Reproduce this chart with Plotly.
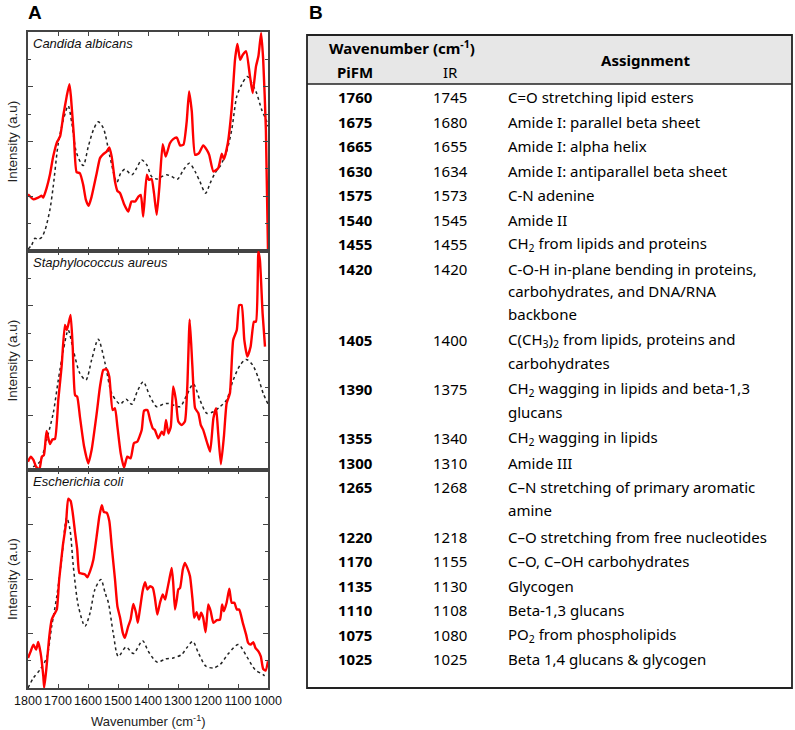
import plotly.graph_objects as go

W, H = 795, 730

# ---------------- Panel A data (arbitrary intensity units, 0-100 per panel) -------------
ca_red_wn = [1800,1782,1766,1754,1749,1738,1727,1716,1704,1693,1682,1671,1662,1657,1647,1638,1627,1616,1607,1598,
             1588,1571,1560,1549,1538,1529,1521,1510,1502,1493,1480,1466,1455,1443,1432,1424,1416,1404,1397,1388,
             1380,1371,1362,1351,1341,1327,1316,1304,1293,1282,1271,1263,1254,1243,1230,1216,1204,1196,1182,1166,
             1154,1147,1134,1121,1110,1102,1093,1084,1073,1060,1051,1040,1032,1023,1016,1007,1000]
ca_red_int = [25.9,23.6,24.4,25.2,24.4,28.7,34.8,43.1,49.5,52.3,62.2,70.6,76.2,70.6,52.3,36.0,35.5,30.2,23.3,20.6,
              24.8,35.5,42.4,44.2,45.4,47.3,43.1,31.7,27.4,26.4,21.5,18.0,22.6,22.6,24.8,25.6,15.7,34.8,32.5,32.9,
              26.4,16.5,29.4,48.8,43.1,49.2,51.1,51.8,48.2,48.5,59.1,72.9,63.7,43.9,44.7,48.2,46.2,43.9,36.3,37.8,
              44.4,41.9,49.2,65.2,87.3,94.5,87.3,89.6,91.2,79.7,72.1,84.3,88.9,99.5,87.3,55.3,0.0]
ca_ir_wn = [1800,1788,1777,1766,1754,1743,1727,1716,1699,1682,1666,1654,1638,1616,1599,1582,1566,1549,1527,1504,
            1491,1477,1454,1438,1421,1404,1388,1371,1354,1338,1321,1302,1282,1262,1243,1227,1208,1193,1177,1160,
            1138,1121,1104,1088,1069,1054,1038,1021,1004,1000]
ca_ir_int = [0.8,2.7,5.8,5.3,6.3,9.6,18.8,29.4,49.2,59.9,66.3,58.4,44.7,39.0,47.7,55.3,59.0,56.1,43.1,31.3,
             35.5,37.3,34.8,37.8,41.6,39.3,34.0,32.9,34.0,34.8,34.0,32.8,37.0,40.1,36.3,31.7,26.4,30.9,35.5,38.6,
             45.4,55.3,70.6,75.9,79.7,76.7,72.1,64.5,59.1,56.9]

sa_red_wn = [1800,1791,1782,1773,1762,1754,1747,1738,1727,1718,1710,1699,1688,1677,1671,1666,1658,1651,1643,1636,
             1627,1613,1599,1588,1571,1560,1549,1538,1529,1518,1510,1502,1491,1480,1469,1458,1447,1436,1421,1413,
             1402,1393,1384,1377,1366,1354,1347,1340,1332,1324,1316,1307,1299,1288,1277,1269,1261,1252,1243,1232,
             1224,1216,1204,1193,1182,1173,1166,1157,1147,1138,1127,1116,1104,1096,1088,1079,1069,1058,1047,1040,
             1032,1027,1018,1010]
sa_red_int = [3.8,6.1,4.6,1.5,0.3,6.1,6.8,17.8,11.9,14.0,14.2,32.0,47.2,66.2,63.9,66.2,70.8,56.3,34.2,33.5,
              24.4,10.7,3.0,9.1,25.9,38.1,45.7,46.0,42.6,27.4,28.2,19.8,7.6,1.1,6.1,5.3,12.2,12.9,18.3,27.1,
              27.4,22.8,19.0,18.3,14.5,17.5,16.0,22.8,16.7,19.8,38.1,32.0,22.1,20.5,22.1,38.1,68.8,47.2,28.2,25.9,
              20.5,18.3,12.9,8.4,23.6,28.2,16.7,2.6,15.2,30.4,35.0,59.4,63.9,75.3,75.3,59.4,51.8,56.3,67.7,67.7,
              99.7,95.9,71.5,56.3]
sa_ir_wn = [1800,1782,1760,1738,1716,1699,1682,1666,1649,1627,1607,1588,1566,1543,1521,1493,1473,1454,1436,1416,
            1393,1371,1349,1332,1316,1293,1271,1249,1227,1204,1182,1160,1138,1116,1093,1073,1051,1032,1016,1000]
sa_ir_int = [0.0,1.5,3.8,13.7,25.9,41.1,54.8,63.9,54.8,44.1,41.1,50.2,59.7,48.7,35.0,30.1,32.3,30.0,35.8,40.3,
             33.5,28.9,30.1,30.4,29.7,28.9,34.2,39.3,32.0,25.9,26.6,28.9,32.0,41.1,47.9,50.5,47.9,41.9,35.0,30.1]

ec_red_wn = [1800,1791,1782,1773,1766,1758,1749,1746,1738,1729,1721,1713,1704,1696,1684,1673,1666,1658,1651,1643,
             1636,1629,1621,1610,1602,1593,1582,1571,1562,1554,1547,1538,1529,1521,1510,1502,1493,1484,1477,1466,
             1458,1449,1440,1434,1427,1418,1410,1402,1393,1384,1377,1369,1360,1351,1343,1338,1329,1321,1316,1310,
             1304,1299,1293,1284,1277,1269,1260,1251,1246,1238,1230,1223,1216,1208,1199,1191,1182,1171,1160,1153,
             1147,1138,1129,1121,1112,1104,1096,1084,1073,1066,1058,1049,1042,1032,1024,1016,1008,1000]
ec_red_int = [13.8,16.8,19.9,17.6,21.1,16.1,5.4,0.0,10.0,23.7,31.4,33.7,36.0,49.8,65.1,75.8,86.8,85.8,80.4,71.2,
              63.6,52.8,52.5,52.1,50.8,53.6,59.0,69.7,78.9,83.8,80.7,80.4,76.6,65.1,49.8,37.5,32.2,25.3,23.0,28.3,
              31.4,38.6,34.5,29.9,36.0,44.4,48.5,45.2,46.7,45.9,41.3,33.7,39.1,42.9,40.6,43.6,49.8,55.1,48.2,36.0,
              40.6,45.2,45.9,54.4,57.4,55.1,51.3,39.8,32.2,34.8,31.4,34.5,32.2,25.6,38.3,35.2,29.9,31.1,31.4,38.3,
              35.2,39.1,45.5,39.1,39.1,36.0,36.0,29.9,24.5,20.7,19.9,21.0,18.4,16.8,14.5,8.7,8.0,12.3]
ec_ir_wn = [1800,1782,1760,1738,1721,1704,1688,1671,1660,1649,1632,1610,1593,1577,1557,1543,1532,1516,1499,1473,
            1449,1418,1399,1369,1343,1316,1288,1271,1251,1232,1207,1182,1160,1132,1099,1071,1043,1016,1004]
ec_ir_int = [0.0,4.6,8.4,13.8,28.3,42.1,59.0,78.1,72.7,55.9,37.5,28.3,34.5,45.2,49.8,43.6,39.1,25.3,14.5,18.8,
             15.8,21.7,16.8,11.8,13.3,13.8,15.3,18.4,21.4,16.1,10.0,9.2,10.7,15.8,19.9,14.5,8.4,6.1,4.6]

species = ["Candida albicans", "Staphylococcus aureus", "Escherichia coli"]
x_ticks = [1800, 1700, 1600, 1500, 1400, 1300, 1200, 1100, 1000]

# ---------------- Panel B data -------------
pifm = ["1760", "1675", "1665", "1630", "1575", "1540", "1455", "1420", "1405", "1390",
        "1355", "1300", "1265", "1220", "1170", "1135", "1110", "1075", "1025"]
ir = ["1745", "1680", "1655", "1634", "1573", "1545", "1455", "1420", "1400", "1375",
      "1340", "1310", "1268", "1218", "1155", "1130", "1108", "1080", "1025"]
assignment = [
    ["C=O stretching lipid esters"],
    ["Amide I: parallel beta sheet"],
    ["Amide I: alpha helix"],
    ["Amide I: antiparallel beta sheet"],
    ["C-N adenine"],
    ["Amide II"],
    ["CH<sub>2</sub> from lipids and proteins"],
    ["C-O-H in-plane bending in proteins,", "carbohydrates, and DNA/RNA", "backbone"],
    ["C(CH<sub>3</sub>)<sub>2</sub> from lipids, proteins and", "carbohydrates"],
    ["CH<sub>2</sub> wagging in lipids and beta-1,3", "glucans"],
    ["CH<sub>2</sub> wagging in lipids"],
    ["Amide III"],
    ["C\u2013N stretching of primary aromatic", "amine"],
    ["C\u2013O stretching from free nucleotides"],
    ["C\u2013O, C\u2013OH carbohydrates"],
    ["Glycogen"],
    ["Beta-1,3 glucans"],
    ["PO<sub>2</sub> from phospholipids"],
    ["Beta 1,4 glucans & glycogen"],
]

# ---------------- helpers -------------
def px(x):
    return x / W

def py(y):
    return 1 - y / H

RED = "#ff0000"
AX = "#444444"
ARIAL = "Arial, Liberation Sans, sans-serif"
TFONT = "Noto Sans, Open Sans, sans-serif"

fig = go.Figure()

panels = [
    (ca_ir_wn, ca_ir_int, ca_red_wn, ca_red_int),
    (sa_ir_wn, sa_ir_int, sa_red_wn, sa_red_int),
    (ec_ir_wn, ec_ir_int, ec_red_wn, ec_red_int),
]
panel_px = [(32, 251), (251, 470), (470, 688)]
x_dom = [px(28), px(268)]

annotations = []
for i, (iw, ii, rw, ri) in enumerate(panels):
    k = "" if i == 0 else str(i + 1)
    fig.add_trace(go.Scatter(x=iw, y=ii, mode="lines", xaxis="x" + k, yaxis="y" + k,
                             line=dict(color="#222222", width=1.5, dash="dot", shape="spline", smoothing=0.8),
                             showlegend=False, hoverinfo="skip"))
    fig.add_trace(go.Scatter(x=rw, y=ri, mode="lines", xaxis="x" + k, yaxis="y" + k,
                             line=dict(color=RED, width=2.4, shape="spline", smoothing=0.5),
                             showlegend=False, hoverinfo="skip"))
    top, bot = panel_px[i]
    fig.layout["xaxis" + k] = dict(
        domain=x_dom, anchor="y" + k, range=[1800, 1000], tickvals=x_ticks,
        ticks="inside", ticklen=4, tickwidth=1, tickcolor=AX, tickangle=0,
        showline=True, linecolor=AX, linewidth=1.5, mirror="ticks",
        showgrid=False, zeroline=False, showticklabels=(i == 2), automargin=False,
        tickfont=dict(family=ARIAL, size=12.5, color="#111111"),
    )
    fig.layout["yaxis" + k] = dict(
        domain=[py(bot), py(top)], anchor="x" + k, range=[0, 100], tick0=0, dtick=25,
        ticks="inside", ticklen=5, tickwidth=1, tickcolor=AX, automargin=False,
        minor=dict(ticks="inside", ticklen=3, dtick=12.5, tickcolor=AX),
        showline=True, linecolor=AX, linewidth=1.5, mirror="ticks",
        showgrid=False, zeroline=False, showticklabels=False,
    )
    annotations.append(dict(x=px(31), y=py(top + 11), xref="paper", yref="paper",
                            text="<i>" + species[i] + "</i>", showarrow=False,
                            xanchor="left", yanchor="middle",
                            font=dict(family=ARIAL, size=13, color="#111111")))
    annotations.append(dict(x=px(12), y=py((top + bot) / 2), xref="paper", yref="paper",
                            text="Intensity (a.u)", showarrow=False, textangle=-90,
                            xanchor="center", yanchor="middle",
                            font=dict(family=ARIAL, size=13.5, color="#222222")))

annotations.append(dict(x=px(148), y=py(721), xref="paper", yref="paper",
                        text="Wavenumber (cm<sup>-1</sup>)", showarrow=False,
                        xanchor="center", yanchor="middle",
                        font=dict(family=ARIAL, size=13, color="#222222")))

# panel letters
for letter, lx in (("A", 35), ("B", 316)):
    annotations.append(dict(x=px(lx), y=py(12), xref="paper", yref="paper",
                            text="<b>" + letter + "</b>", showarrow=False,
                            xanchor="center", yanchor="middle",
                            font=dict(family=ARIAL, size=19, color="#000000")))

# ---------------- table (panel B) -------------
T_L, T_R, T_T, T_B, T_H = 307, 792, 35, 688, 84
shapes = [
    dict(type="rect", xref="paper", yref="paper", x0=px(T_L), x1=px(T_R), y0=py(T_H), y1=py(T_T),
         fillcolor="#e7e7e7", line=dict(width=0), layer="below"),
    dict(type="line", xref="paper", yref="paper", x0=px(T_L), x1=px(T_R), y0=py(T_H), y1=py(T_H),
         line=dict(color="#222222", width=1.5)),
    dict(type="rect", xref="paper", yref="paper", x0=px(T_L), x1=px(T_R), y0=py(T_B), y1=py(T_T),
         line=dict(color="#222222", width=1.8)),
]

COL_PIFM, COL_IR, COL_ASSIGN = 355, 450, 506
FS = 15
tf = dict(family=TFONT, size=FS, color="#000000")

def tann(x, y, text, anchor="center"):
    annotations.append(dict(x=px(x), y=py(y), xref="paper", yref="paper", text=text,
                            showarrow=False, xanchor=anchor, yanchor="middle", font=tf))

tann(402, 47, "<b>Wavenumber (cm<sup>-1</sup>)</b>")
tann(COL_PIFM, 72, "<b>PiFM</b>")
tann(COL_IR, 72, "IR")
tann(645, 60, "<b>Assignment</b>")

ROW_PITCH, LINE_SP, EXTRA = 24.5, 22.6, 2.0
y = 97.0
for p, r, lines in zip(pifm, ir, assignment):
    tann(COL_PIFM, y, "<b>" + p + "</b>")
    tann(COL_IR, y, r)
    for j, ln in enumerate(lines):
        tann(COL_ASSIGN, y + j * LINE_SP, ln, anchor="left")
    last = y + (len(lines) - 1) * LINE_SP
    y = last + ROW_PITCH + (EXTRA if len(lines) > 1 else 0)

fig.update_layout(
    width=W, height=H, margin=dict(l=0, r=0, t=0, b=0, autoexpand=False),
    paper_bgcolor="white", plot_bgcolor="white",
    annotations=annotations, shapes=shapes, showlegend=False,
)

fig.write_html("out.html", config={"displayModeBar": False},
               post_script="document.body.style.margin='0px';document.body.style.overflow='hidden';")
